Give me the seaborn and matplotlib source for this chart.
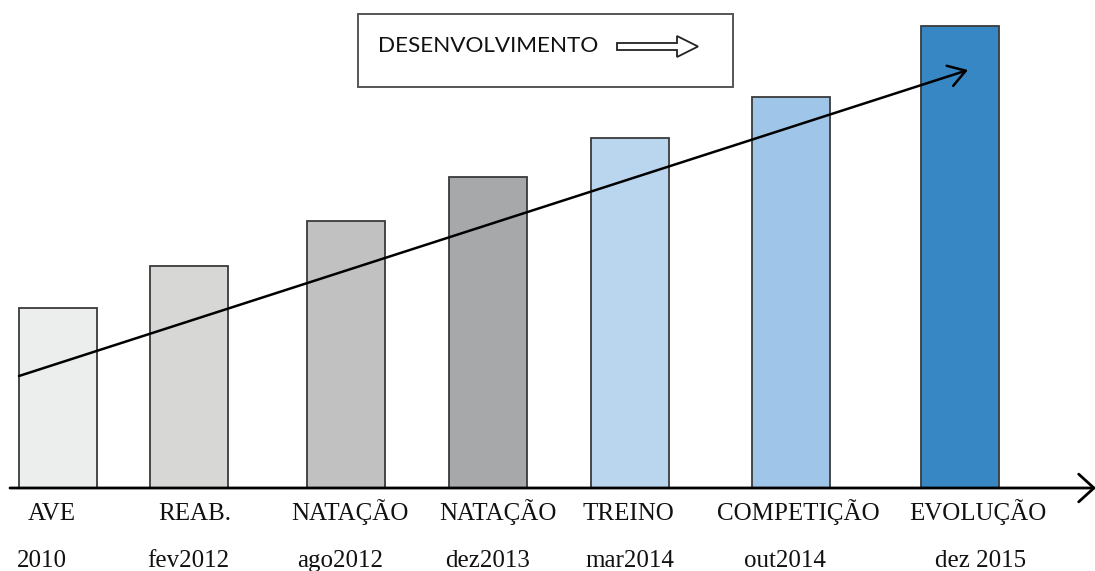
import matplotlib
matplotlib.use("Agg")
import matplotlib.pyplot as plt
import matplotlib.patches as mpatches
import seaborn as sns
import pandas as pd

# ---- data ----
stages = ["AVE", "REAB.", "NATAÇÃO", "NATAÇÃO", "TREINO", "COMPETIÇÃO", "EVOLUÇÃO"]
dates = ["2010", "fev2012", "ago2012", "dez2013", "mar2014", "out2014", "dez 2015"]
values = [180, 222, 267, 311, 350, 391, 462]
legend_text = "DESENVOLVIMENTO"

# ---- layout / style ----
bar_x = [58, 189, 346, 488, 630, 791, 960]
stage_label_x = [52, 195, 350, 498, 628, 798, 978]
date_label_x = [42, 188, 340, 488, 630, 785, 981]
colors = ["#ECEEED", "#D7D8D6", "#C0C1C0", "#A6A8A9", "#BAD6EE", "#9FC5E8", "#3787C4"]

W, H = 1095, 571
fig = plt.figure(figsize=(W / 100, H / 100), dpi=100)
sns.set_style("white")
plt.rcParams["font.family"] = ["Liberation Serif", "DejaVu Sans"]

left_px, base_px = 10, 488
ax = fig.add_axes([left_px / W, (H - base_px) / H, (W - left_px) / W, base_px / H])

labels = [f"{s}\n{d}" for s, d in zip(stages, dates)]
df = pd.DataFrame({"x": bar_x, "value": values, "label": labels})

sns.barplot(data=df, x="x", y="value", hue="label", palette=colors, saturation=1,
            native_scale=True, dodge=False, legend=False,
            width=78 / 131, edgecolor="#3a3a3a", linewidth=1.3, ax=ax)

ax.set_xlim(left_px, W)
ax.set_ylim(0, base_px)
for s in ax.spines.values():
    s.set_visible(False)
ax.set_yticks([])
ax.set_xticks(bar_x)
ax.set_xticklabels([])
ax.tick_params(axis="x", length=0)
ax.set_xlabel("")
ax.set_ylabel("")

# two rows of category labels, baseline aligned
tr = ax.get_xaxis_transform()
for xs, xd, s, d in zip(stage_label_x, date_label_x, stages, dates):
    ax.text(xs, -32 / base_px, s, transform=tr, ha="center", va="baseline",
            fontsize=18, color="#111111", clip_on=False)
    ax.text(xd, -79 / base_px, d, transform=tr, ha="center", va="baseline",
            fontsize=18, color="#111111", clip_on=False)

# baseline axis with arrow
ax.annotate("", xy=(W + 1, 0), xytext=(left_px, 0), xycoords="data",
            annotation_clip=False,
            arrowprops=dict(arrowstyle="->,head_length=0.55,head_width=0.5",
                            color="black", lw=2.0, mutation_scale=20,
                            shrinkA=0, shrinkB=0))

# trend arrow
ax.annotate("", xy=(968, 418), xytext=(19, 112), xycoords="data",
            annotation_clip=False,
            arrowprops=dict(arrowstyle="->,head_length=0.6,head_width=0.38",
                            color="black", lw=1.8, mutation_scale=20,
                            shrinkA=0, shrinkB=0))

# legend-like box
box = mpatches.Rectangle((358, 401), 375, 73, facecolor="white",
                         edgecolor="#555555", linewidth=1.4, clip_on=False, zorder=5)
ax.add_patch(box)
ax.text(378, 442, legend_text, fontsize=16.2, family=["Lato", "DejaVu Sans"],
        va="center", ha="left", color="#111111", zorder=6)
harrow = mpatches.FancyArrow(617, 441.5, 81, 0, width=7, head_width=21, head_length=21,
                             length_includes_head=True, facecolor="white",
                             edgecolor="#222222", linewidth=1.3, clip_on=False, zorder=6)
ax.add_patch(harrow)

fig.savefig("out.png", dpi=100)
